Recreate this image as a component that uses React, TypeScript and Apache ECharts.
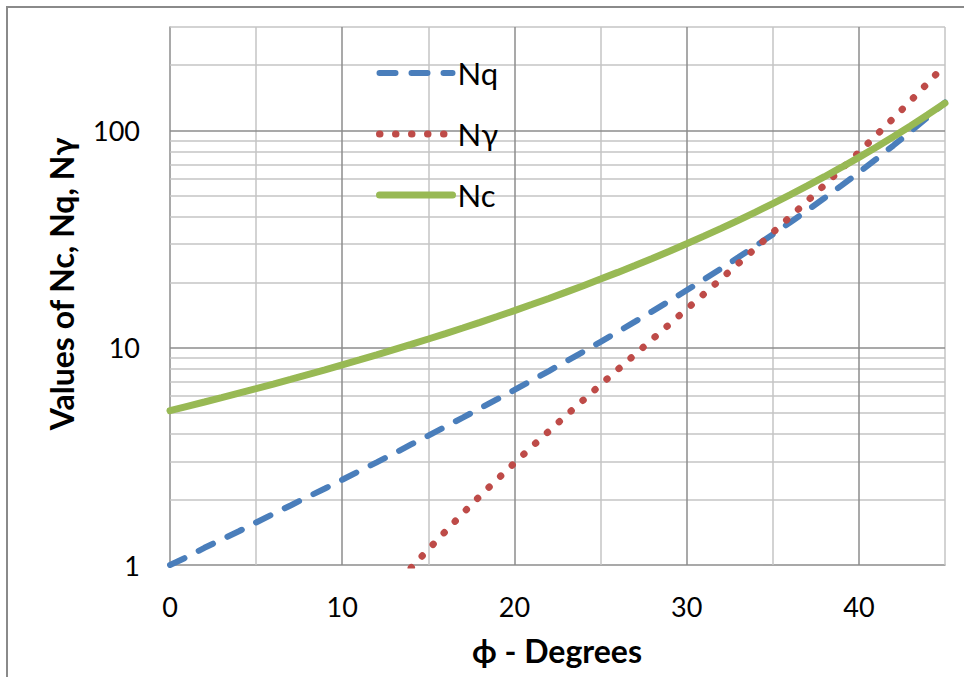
import React, { useEffect, useRef } from "react";
import * as echarts from "echarts";

const phi = [0,1,2,3,4,5,6,7,8,9,10,11,12,13,14,15,16,17,18,19,20,21,22,23,24,25,26,27,28,29,30,31,32,33,34,35,36,37,38,39,40,41,42,43,44,45];
const ncValues = [5.14,5.38,5.63,5.90,6.19,6.49,6.81,7.16,7.53,7.92,8.35,8.80,9.28,9.81,10.37,10.98,11.63,12.34,13.10,13.93,14.83,15.82,16.88,18.05,19.32,20.72,22.25,23.94,25.80,27.86,30.14,32.67,35.49,38.64,42.16,46.12,50.59,55.63,61.35,67.87,75.31,83.86,93.71,105.11,118.37,133.88];
const nqValues = [1.00,1.09,1.20,1.31,1.43,1.57,1.72,1.88,2.06,2.25,2.47,2.71,2.97,3.26,3.59,3.94,4.34,4.77,5.26,5.80,6.40,7.07,7.82,8.66,9.60,10.66,11.85,13.20,14.72,16.44,18.40,20.63,23.18,26.09,29.44,33.30,37.75,42.92,48.93,55.96,64.20,73.90,85.38,99.02,115.31,134.88];
const ngPhi = [14,15,16,17,18,19,20,21,22,23,24,25,26,27,28,29,30,31,32,33,34,35,36,37,38,39,40,41,42,43,44,45];
const ngValues = [0.97,1.18,1.43,1.73,2.08,2.48,2.95,3.50,4.13,4.88,5.75,6.76,7.94,9.32,10.94,12.84,15.07,17.69,20.79,24.44,28.77,33.92,40.05,47.38,56.17,66.76,79.54,95.05,113.96,137.10,165.58,200.81];

const xMajorGrid = [10, 20, 30, 40];
const xMinorGrid = [5, 15, 25, 35, 45];
const yMajorGrid = [10, 100];
const yMinorGrid = [2,3,4,5,6,7,8,9,20,30,40,50,60,70,80,90,200,300];
const yTickLabels = [1, 10, 100];

const FONT = "Lato, 'Open Sans', sans-serif";
const MAJOR = "#8c8c8c";
const MINOR = "#c4c4c4";

export default function App() {
  const ref = useRef<HTMLDivElement>(null);
  useEffect(() => {
    if (!ref.current) return;
    const chart = echarts.init(ref.current, undefined, { renderer: "svg" });
    const gridLines = [
      ...xMinorGrid.map((v) => ({ xAxis: v, lineStyle: { color: MINOR, width: 1.5, type: "solid" } })),
      ...yMinorGrid.map((v) => ({ yAxis: v, lineStyle: { color: MINOR, width: 1.5, type: "solid" } })),
      ...xMajorGrid.map((v) => ({ xAxis: v, lineStyle: { color: MAJOR, width: 1.5, type: "solid" } })),
      ...yMajorGrid.map((v) => ({ yAxis: v, lineStyle: { color: MAJOR, width: 1.5, type: "solid" } })),
    ];
    chart.setOption({
      animation: false,
      backgroundColor: "#ffffff",
      textStyle: { fontFamily: FONT },
      grid: { left: 170, top: 27, right: 19, bottom: 112, containLabel: false },
      xAxis: {
        type: "value",
        min: 0,
        max: 45,
        interval: 10,
        axisLine: { show: true, lineStyle: { color: MAJOR, width: 1.5 } },
        axisTick: { show: false },
        splitLine: { show: false },
        axisLabel: {
          color: "#000",
          fontSize: 27,
          fontFamily: FONT,
          margin: 28,
          formatter: (v: number) => (v % 10 === 0 ? String(v) : ""),
        },
      },
      yAxis: {
        type: "log",
        logBase: 10,
        min: 1,
        max: 300,
        axisLine: { show: true, onZero: false, lineStyle: { color: MAJOR, width: 1.5 } },
        axisTick: { show: false },
        splitLine: { show: false },
        minorSplitLine: { show: false },
        axisLabel: {
          color: "#000",
          fontSize: 27,
          fontFamily: FONT,
          margin: 30,
          formatter: (v: number) => {
            const r = Math.round(v);
            return yTickLabels.some((t) => Math.abs(t - v) < 1e-6 * t) ? String(r) : "";
          },
        },
      },
      legend: {
        data: ["Nq", "Nγ", "Nc"],
        orient: "vertical",
        left: 371,
        top: 52,
        itemWidth: 73,
        itemHeight: 14,
        itemGap: 29,
        lineStyle: { width: "inherit", type: "inherit", cap: "inherit" },
        itemStyle: { color: "rgba(0,0,0,0)", borderWidth: 0, opacity: 0 },
        textStyle: { fontSize: 31, fontFamily: FONT, color: "#000", lineHeight: 32 },
      },
      graphic: [
        {
          type: "rect",
          shape: { x: 7, y: 7, width: 1100, height: 1100 },
          style: { fill: "none", stroke: "#8a8a8a", lineWidth: 2 },
          silent: true,
        },
        {
          type: "text",
          x: 61,
          y: 284,
          rotation: Math.PI / 2,
          style: {
            text: "Values of Nc, Nq, Nγ",
            font: `bold 32px ${FONT}`,
            fill: "#000",
            textAlign: "center",
            textVerticalAlign: "middle",
          },
        },
        {
          type: "text",
          x: 557,
          y: 650,
          style: {
            text: "ϕ - Degrees",
            font: `bold 32px ${FONT}`,
            fill: "#000",
            textAlign: "center",
            textVerticalAlign: "middle",
          },
        },
      ],
      series: [
        {
          name: "grid",
          type: "line",
          data: [],
          silent: true,
          z: 1,
          markLine: {
            silent: true,
            symbol: "none",
            z: 1,
            label: { show: false },
            emphasis: { disabled: true },
            data: gridLines,
          },
        },
        {
          name: "Nq",
          type: "line",
          z: 3,
          symbol: "none",
          showSymbol: false,
          color: "#4A7EBB",
          lineStyle: { color: "#4A7EBB", width: 6, type: [16, 16], cap: "round" },
          data: phi.map((p, i) => [p, nqValues[i]]),
        },
        {
          name: "Nγ",
          type: "line",
          z: 3,
          symbol: "none",
          showSymbol: false,
          color: "#BE4B48",
          lineStyle: { color: "#BE4B48", width: 7, type: [0.5, 15.5], cap: "round" },
          data: ngPhi.map((p, i) => [p, ngValues[i]]),
        },
        {
          name: "Nc",
          type: "line",
          z: 4,
          symbol: "none",
          showSymbol: false,
          color: "#98B954",
          lineStyle: { color: "#98B954", width: 7, type: "solid", cap: "round" },
          data: phi.map((p, i) => [p, ncValues[i]]),
        },
      ],
    });
    return () => chart.dispose();
  }, []);
  return <div ref={ref} style={{ width: 964, height: 677, position: "absolute", left: 0, top: 0 }} />;
}
